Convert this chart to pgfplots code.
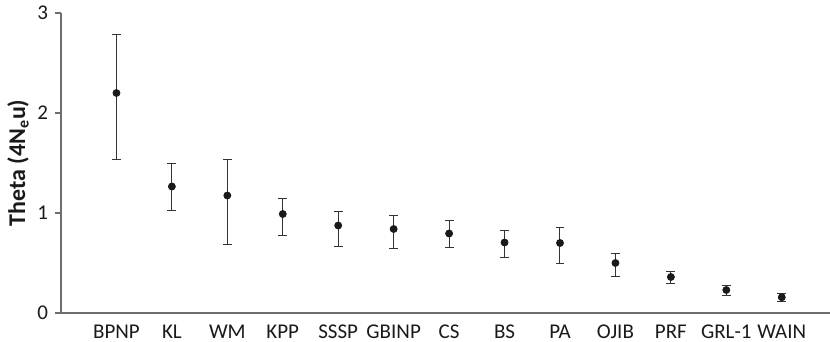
\documentclass[border=0pt]{standalone}
\usepackage{fontspec}
\setmainfont{Carlito}
\usepackage{pgfplots}
\usepackage{pgfplotstable}
\pgfplotsset{compat=1.18}
\definecolor{axgray}{HTML}{6E6E6E}
\definecolor{txt}{HTML}{1A1A1A}
\pgfplotstableread{
x y hi lo
1 2.20 2.78 1.53
2 1.265 1.49 1.02
3 1.175 1.53 0.68
4 0.99 1.145 0.775
5 0.875 1.015 0.665
6 0.84 0.975 0.645
7 0.795 0.92 0.655
8 0.705 0.82 0.555
9 0.70 0.85 0.49
10 0.50 0.59 0.365
11 0.36 0.415 0.29
12 0.23 0.27 0.175
13 0.157 0.19 0.115
}\datatab
\begin{document}
\begin{tikzpicture}
\begin{axis}[
  scale only axis,
  width=384.5pt, height=150pt,
  xmin=0, xmax=13.87,
  ymin=0, ymax=3,
  axis x line*=bottom, axis y line*=left,
  axis line style={axgray, line width=0.6pt},
  xtick={1,...,13},
  xticklabels={BPNP,KL,WM,KPP,SSSP,GBINP,CS,BS,PA,OJIB,PRF,GRL-1,WAIN},
  x tick style={draw=none},
  ytick={0,1,2,3},
  y tick style={axgray, line width=0.6pt},
  tick align=outside,
  major tick length=3pt,
  /pgf/number format/assume math mode=true,
  tick label style={font=\fontsize{10.5}{12}\selectfont, text=txt},
  xticklabel style={anchor=north, yshift=0.5pt},
  yticklabel style={xshift=0pt},
  ylabel={Theta (4N\textsubscript{e}u)},
  every axis y label/.style={at={(axis description cs:0,0.5)}, xshift=-21.5pt, rotate=90, anchor=center, font=\fontsize{12}{14}\selectfont\bfseries, text=txt},
  clip=false,
]
\addplot[only marks, mark=*, mark size=1.75pt, color=txt,
  error bars/.cd, y dir=both, y explicit,
  error bar style={color=black!80, line width=0.5pt},
  error mark options={rotate=90, mark size=2.2pt, color=black!80, line width=0.5pt}]
  table[x=x, y=y, y error plus expr=\thisrow{hi}-\thisrow{y}, y error minus expr=\thisrow{y}-\thisrow{lo}]{\datatab};
\end{axis}
\pgfresetboundingbox
\path[use as bounding box] (-30.5pt,-14.5pt) rectangle (384.5pt,156.5pt);
\end{tikzpicture}
\end{document}
